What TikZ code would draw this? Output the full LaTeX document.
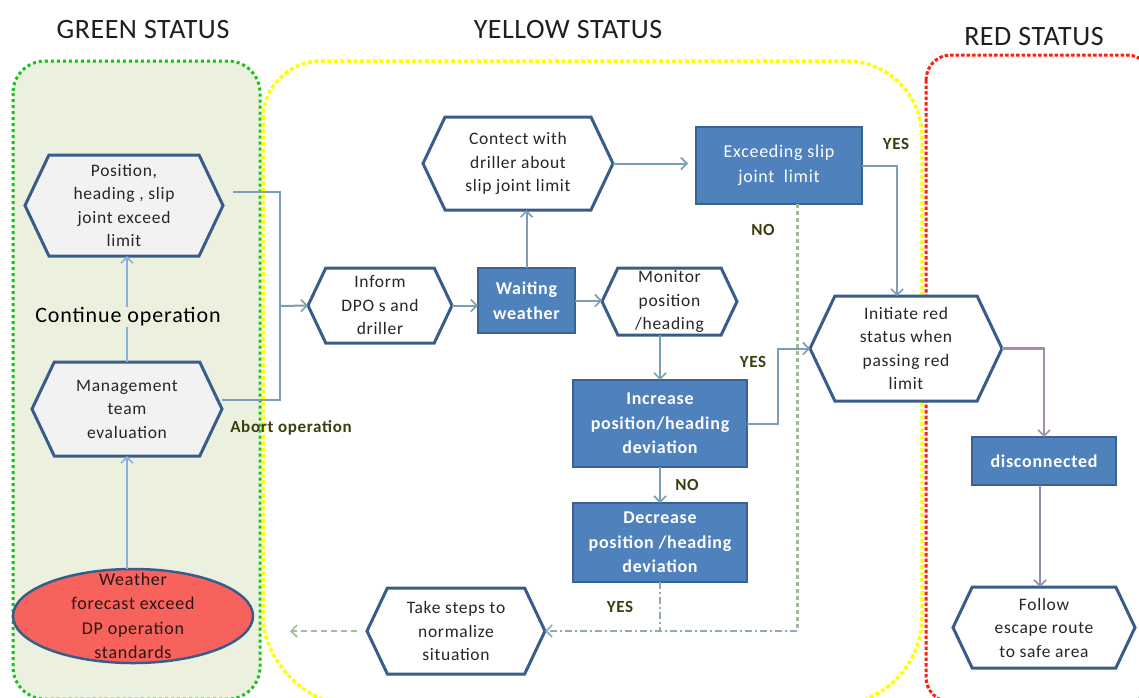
\documentclass[tikz,border=0pt]{standalone}
\usepackage{fontspec}
\setmainfont{Carlito}
\newfontfamily\bodyf{Carlito}[LetterSpace=4]
\newfontfamily\headf{Carlito}[LetterSpace=2]
\usetikzlibrary{arrows.meta,shapes.geometric,calc}

\definecolor{greenbg}{HTML}{EBF1DE}
\definecolor{zonegreen}{HTML}{16C416}
\definecolor{zoneyellow}{HTML}{FFFF00}
\definecolor{zonered}{HTML}{FF1F10}
\definecolor{edgeblue}{HTML}{385D8A}
\definecolor{boxblue}{HTML}{4F81BD}
\definecolor{boxedge}{HTML}{3A6394}
\definecolor{connc}{HTML}{7B9EB6}
\definecolor{connlight}{HTML}{8DB0DA}
\definecolor{dashc}{HTML}{8FAAB4}
\definecolor{dashgreen}{HTML}{A8BC9C}
\definecolor{dotgreen}{HTML}{A3B896}
\definecolor{mauve}{HTML}{A58EB2}
\definecolor{mauvedark}{HTML}{8F8AB2}
\definecolor{lblc}{HTML}{3D3D12}
\definecolor{textc}{HTML}{262626}
\definecolor{ellred}{HTML}{F7635C}
\definecolor{elltext}{HTML}{2A1616}

\tikzset{
  hexline/.style={draw=edgeblue, line width=3pt, line join=miter},
  hextext/.style={shape=rectangle, inner sep=0pt, outer sep=0pt, align=center,
    text=textc, font={\bodyf\fontsize{17.5}{23.5}\selectfont}},
  boxstep/.style={shape=rectangle, draw=boxedge, fill=boxblue, line width=2.5pt,
    text=white, align=center, inner sep=0pt, outer sep=0pt,
    font={\bodyf\bfseries\fontsize{18}{24.5}\selectfont}},
  zonetitle/.style={font={\headf\fontsize{28}{32}\selectfont}, text=black!88},
  lbl/.style={font={\bodyf\bfseries\fontsize{17}{20}\selectfont}, text=lblc, inner sep=0pt},
  conn/.style={draw=connc, line width=2pt},
  connl/.style={draw=connlight, line width=2pt},
  wayarrow/.style={-{Straight Barb[length=6pt,width=12pt,line width=1.6pt]}},
  dashline/.style={draw=dashc, line width=2pt, dash pattern=on 7pt off 3pt on 2pt off 3pt},
  dotline/.style={draw=dotgreen, line width=3pt, dash pattern=on 4pt off 3pt},
  greendash/.style={draw=dashgreen, line width=2pt, dash pattern=on 6pt off 4pt},
  mauveline/.style={draw=mauve, line width=2.2pt},
  mauveline2/.style={draw=mauvedark, line width=2.2pt},
}

% hexagonal step: name, centre x, centre y, width, height, fill, text
\newcommand\hexstep[7]{%
  \pgfmathsetmacro\hxl{#2-#4/2}\pgfmathsetmacro\hxr{#2+#4/2}%
  \pgfmathsetmacro\hxt{#3-#5/2}\pgfmathsetmacro\hxb{#3+#5/2}%
  \pgfmathsetmacro\hxi{#5*0.237}%
  \pgfmathsetmacro\hxil{\hxl+\hxi}\pgfmathsetmacro\hxir{\hxr-\hxi}%
  \filldraw[hexline, fill=#6] (\hxl,#3) -- (\hxil,\hxt) -- (\hxir,\hxt) -- (\hxr,#3)
    -- (\hxir,\hxb) -- (\hxil,\hxb) -- cycle;
  \node[hextext, minimum width=#4pt, minimum height=#5pt] (#1) at (#2,#3) {#7};
}

\begin{document}
\begin{tikzpicture}[x=1pt,y=-1pt]
\path[use as bounding box, fill=white] (0,0) rectangle (1139,697);
\clip (0,0) rectangle (1139,697);

% status zones
\fill[greenbg, rounded corners=32pt] (13,61) rectangle (260,699);
\draw[zonegreen, line width=3pt, dash pattern=on 3pt off 3pt, rounded corners=32pt]
  (13,61) rectangle (260,699);
\draw[zoneyellow, line width=3.5pt, dash pattern=on 4pt off 2.5pt]
  (263,119) .. controls (263,87) and (289,61) .. (321,61)
  -- (846,61) .. controls (888,61) and (922,95) .. (922,137)
  -- (922,617) .. controls (922,665.6) and (882.6,705) .. (834,705)
  -- (351,705) .. controls (302.4,705) and (263,656.4) .. (263,617) -- cycle;
\draw[zonered, line width=3pt, dash pattern=on 3.5pt off 2pt, rounded corners=25pt]
  (926,55) rectangle (1152,702);

% zone titles
\node[zonetitle] (tgreen) at (143,30) {GREEN STATUS};
\node[zonetitle] (tyellow) at (568,30) {YELLOW STATUS};
\node[zonetitle] (tred) at (1034,37) {RED STATUS};

% steps
\hexstep{pos}{124}{205.5}{198}{101}{black!5}{Position,\\heading , slip\\joint exceed\\limit}
\hexstep{mgmt}{127}{409}{190}{94}{black!5}{Management\\team\\evaluation}
\hexstep{inform}{380}{305.5}{144}{75}{white}{Inform\\DPO s and\\driller}
\hexstep{con}{518}{163.5}{190}{93}{white}{Contect with\\driller about\\slip joint limit}
\hexstep{mon}{669.5}{301.5}{135}{67}{white}{Monitor\\position\\/heading}
\hexstep{init}{906}{348.5}{192}{105}{white}{Initiate red\\status when\\passing red\\limit}
\hexstep{take}{456}{631}{178}{86}{white}{Take steps to\\normalize\\situation}
\hexstep{follow}{1044}{627.5}{182}{81}{white}{Follow\\escape route\\to safe area}

\node[boxstep, minimum width=97pt, minimum height=65pt] (wait) at (526.5,300.5) {Waiting\\weather};
\node[boxstep, minimum width=166pt, minimum height=77pt,
  font={\bodyf\fontsize{18}{24.5}\selectfont}] (ex) at (779,165.5) {Exceeding slip\\joint\ \ limit};
\node[boxstep, minimum width=174pt, minimum height=87pt] (inc) at (660,423.5) {Increase\\position/heading\\deviation};
\node[boxstep, minimum width=174pt, minimum height=79pt] (dec) at (660,542.5) {Decrease\\position /heading\\deviation};
\node[boxstep, minimum width=144pt, minimum height=48pt] (disc) at (1044,461) {disconnected};

\node[ellipse, draw=edgeblue, fill=ellred, line width=2.5pt, minimum width=240pt,
  minimum height=94pt, inner sep=0pt, outer sep=0pt] (ell) at (133,616) {};
\node[align=center, text=elltext, inner sep=0pt,
  font={\bodyf\fontsize{18}{24.5}\selectfont}] (ellcap) at (ell.center)
  {Weather\\forecast exceed\\DP operation\\standards};

% green zone flow
\draw[connl, wayarrow] (mgmt.south |- ell.north) -- (mgmt.south);
\draw[connl, wayarrow] (mgmt.north) -- (mgmt.north |- pos.south);
\node[fill=greenbg, inner sep=1pt, text=black,
  font={\bodyf\fontsize{22}{26}\selectfont}] (cont) at (128,317) {Continue operation};

% abort path into the yellow zone
\coordinate (join) at (280,306);
\draw[conn] ([shift={(10,-14)}]pos.east) -| (join);
\draw[conn] ([shift={(0,-9)}]mgmt.east) -| (join);
\draw[conn, wayarrow] (join) -- (inform.west);
\node[lbl] (abort) at (291,428) {Abort operation};

% yellow zone flow
\draw[conn, wayarrow] (inform.east) -- (inform.east -| wait.west);
\draw[conn, wayarrow] (wait.north) -- (wait.north |- con.south);
\draw[conn, wayarrow] (wait.east) -- (wait.east -| mon.west);
\draw[conn, wayarrow, shorten >=8pt] (con.east) -- (con.east -| ex.west);
\draw[conn, wayarrow] (ex.east) -| ([xshift=-9pt]init.north);
\draw[conn, wayarrow] (mon.south -| inc.north) -- (inc.north);
\draw[conn, wayarrow] (inc.east) -- ++(31,0) |- (init.west);
\draw[conn, wayarrow] (inc.south) -- (dec.north);
\coordinate (nocorner) at ([xshift=18pt]ex.south |- take.east);
\draw[dotline] ([xshift=18pt]ex.south) -- (nocorner);
\draw[dashline, wayarrow] (nocorner) -- (take.east);
\draw[dashline] (dec.south) -- (dec.south |- take.east);
\coordinate (back) at (290,631);
\draw[greendash, wayarrow] ([xshift=-10pt]take.west) -- (back);

\node[lbl] (yes1) at (896,144) {YES};
\node[lbl] (no1) at (763,230) {NO};
\node[lbl] (yes2) at (753,362) {YES};
\node[lbl] (no2) at (687,485) {NO};
\node[lbl] (yes3) at (620,607) {YES};

% red zone flow
\draw[mauveline, wayarrow] (init.east) -| (disc.north);
\draw[mauveline2, wayarrow] ([xshift=-4pt]disc.south) -- ([xshift=-4pt]disc.south |- follow.north);
\end{tikzpicture}
\end{document}
